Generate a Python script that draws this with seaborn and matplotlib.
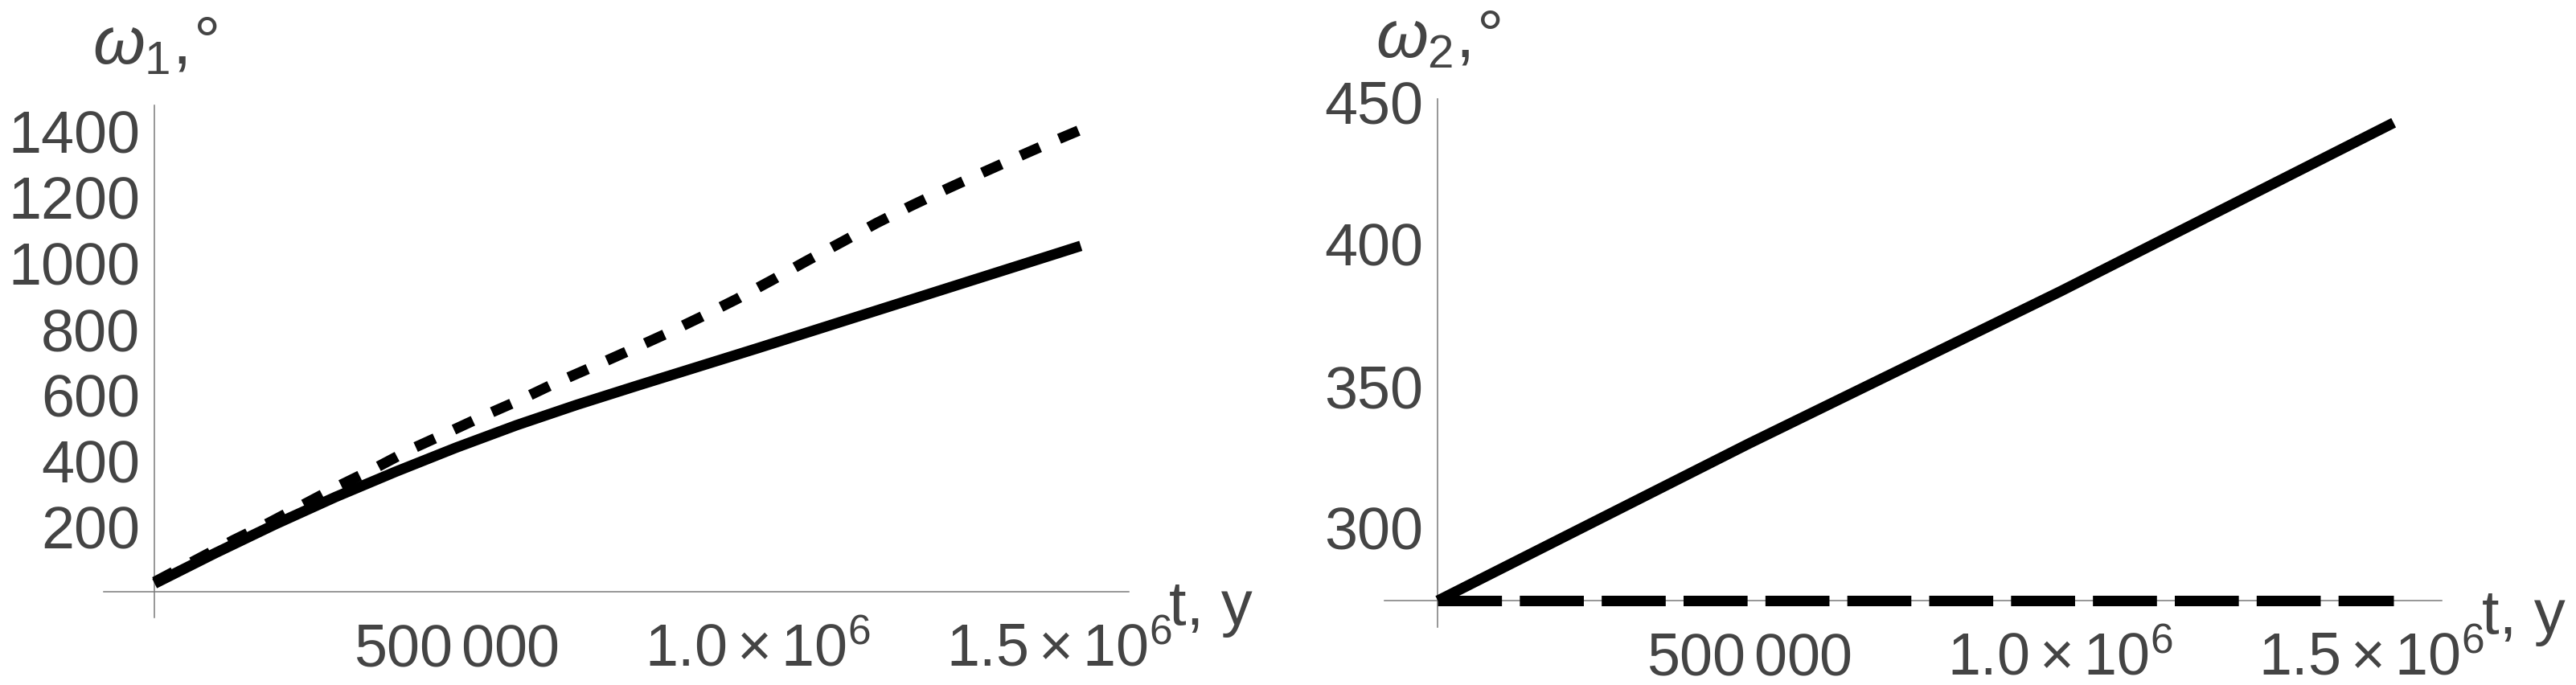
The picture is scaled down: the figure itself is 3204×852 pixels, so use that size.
import numpy as np
import pandas as pd
import matplotlib
matplotlib.use("Agg")
import matplotlib.pyplot as plt
import seaborn as sns
from matplotlib.ticker import FixedLocator, FixedFormatter, NullFormatter

# ---------------- data ----------------
# left panel: omega_1 (deg) vs t (years)
t1_solid = [0, 100e3, 200e3, 300e3, 400e3, 500e3, 600e3, 700e3, 800e3, 900e3,
            1.0e6, 1.1e6, 1.2e6, 1.3e6, 1.4e6, 1.5e6, 1.536e6]
w1_solid = [25, 117, 205, 288, 365, 438, 506, 568, 626, 683,
            740, 798, 856, 914, 972, 1030, 1051]
t1_dash = [0, 131e3, 189e3, 248e3, 307e3, 366e3, 425e3, 485e3, 545e3, 606e3,
           662e3, 726e3, 786e3, 846e3, 905e3, 965e3, 1.023e6, 1.081e6, 1.139e6,
           1.197e6, 1.256e6, 1.316e6, 1.376e6, 1.436e6, 1.497e6, 1.536e6]
w1_dash = [30, 157, 209, 266, 323, 376, 433, 483, 534, 583,
           632, 683, 732, 782, 834, 889, 946, 1005, 1062,
           1120, 1174, 1226, 1276, 1325, 1374, 1404]

# right panel: omega_2 (deg) vs t (years)
t2_solid = [0, 0.5e6, 1.0e6, 1.536e6]
w2_solid = [274.2, 329.5, 383.0, 442.4]
t2_dash = [0, 0.25e6, 0.5e6, 0.75e6, 1.0e6, 1.25e6, 1.536e6]
w2_dash = [274.2, 274.2, 274.2, 274.2, 274.2, 274.2, 274.2]

# ticks / labels
x_major = [500000, 1000000, 1500000]
x_major_labels = [r"$\mathregular{500\,000}$",
                  r"$\mathregular{1.0\times10^{6}}$",
                  r"$\mathregular{1.5\times10^{6}}$"]
x_minor = [100000, 200000, 300000, 400000, 600000, 700000, 800000, 900000,
           1100000, 1200000, 1300000, 1400000, 1600000]
y1_major = [200, 400, 600, 800, 1000, 1200, 1400]
y1_major_labels = ["200", "400", "600", "800", "1000", "1200", "1400"]
y1_minor = [-50, 50, 100, 150, 250, 300, 350, 450, 500, 550, 650, 700, 750,
            850, 900, 950, 1050, 1100, 1150, 1250, 1300, 1350, 1450]
y2_major = [300, 350, 400, 450]
y2_major_labels = ["300", "350", "400", "450"]
y2_minor = [270, 280, 290, 310, 320, 330, 340, 360, 370, 380, 390,
            410, 420, 430, 440]

ylabel1 = r"$\omega_{\mathregular{1}}\mathregular{,\!°}$"
ylabel2 = r"$\omega_{\mathregular{2}}\mathregular{,\!°}$"
xlabel = "t, y"

# ---------------- style ----------------
sns.set_theme(style="white")
plt.rcParams["font.family"] = ["Liberation Sans", "DejaVu Sans"]
plt.rcParams["mathtext.fontset"] = "custom"
plt.rcParams["mathtext.rm"] = "Liberation Sans"
plt.rcParams["mathtext.it"] = "Liberation Sans:italic"
plt.rcParams["mathtext.bf"] = "Liberation Sans:bold"
plt.rcParams["mathtext.sf"] = "Liberation Sans"

AX_COL = "#7a7a7a"
TXT = "#444444"
LW = 9.4  # points (~13 px at 100 dpi)
PX = 72.0 / 100.0  # points per pixel

fig = plt.figure(figsize=(32.05, 8.53), dpi=100)
W, H = 3205.0, 853.0
ax1 = fig.add_axes([129 / W, (H - 769) / H, (1404 - 129) / W, (769 - 132) / H])
ax2 = fig.add_axes([1722 / W, (H - 781) / H, (3037 - 1722) / W, (781 - 124) / H])

df1s = pd.DataFrame({"t": t1_solid, "w": w1_solid})
df1d = pd.DataFrame({"t": t1_dash, "w": w1_dash})
df2s = pd.DataFrame({"t": t2_solid, "w": w2_solid})
df2d = pd.DataFrame({"t": t2_dash, "w": w2_dash})

sns.lineplot(data=df1d, x="t", y="w", ax=ax1, color="black", linewidth=LW,
             estimator=None, sort=False, linestyle=(0, (2.0, 2.0)),
             dash_capstyle="butt")
sns.lineplot(data=df1s, x="t", y="w", ax=ax1, color="black", linewidth=LW,
             estimator=None, sort=False, solid_capstyle="butt",
             solid_joinstyle="round")
sns.lineplot(data=df2d, x="t", y="w", ax=ax2, color="black", linewidth=LW,
             estimator=None, sort=False, linestyle=(0, (6.1, 1.7)),
             dash_capstyle="butt")
sns.lineplot(data=df2s, x="t", y="w", ax=ax2, color="black", linewidth=LW,
             estimator=None, sort=False, solid_capstyle="butt")


def style_axes(ax, xlim, ylim, origin_y, ymaj, ymaj_lab, ymin, ylab):
    ax.set_xlim(*xlim)
    ax.set_ylim(*ylim)
    ax.set_xlabel("")
    ax.set_ylabel("")
    ax.grid(False)
    ax.set_facecolor("white")
    for s in ["top", "right"]:
        ax.spines[s].set_visible(False)
    ax.spines["left"].set_position(("data", 0))
    ax.spines["bottom"].set_position(("data", origin_y))
    for s in ["left", "bottom"]:
        ax.spines[s].set_color(AX_COL)
        ax.spines[s].set_linewidth(1.1)
        ax.spines[s].set_zorder(0.5)
    ax.xaxis.set_major_locator(FixedLocator(x_major))
    ax.xaxis.set_major_formatter(FixedFormatter(x_major_labels))
    ax.xaxis.set_minor_locator(FixedLocator(x_minor))
    ax.xaxis.set_minor_formatter(NullFormatter())
    ax.yaxis.set_major_locator(FixedLocator(ymaj))
    ax.yaxis.set_major_formatter(FixedFormatter(ymaj_lab))
    ax.yaxis.set_minor_locator(FixedLocator(ymin))
    ax.yaxis.set_minor_formatter(NullFormatter())
    ax.tick_params(which="both", direction="in", color=AX_COL, width=1.1,
                   labelcolor=TXT, labelsize=53)
    ax.tick_params(axis="y", which="major", length=10, pad=13)
    ax.tick_params(axis="y", which="minor", length=5.8)
    ax.tick_params(axis="x", which="major", length=9, pad=66)
    ax.tick_params(axis="x", which="minor", length=5.8)
    for lab in ax.get_xticklabels():
        lab.set_verticalalignment("baseline")
    for line in ax.get_lines():
        line.set_zorder(3)
    # axis labels
    ax.annotate(ylab, xy=(0, 1), xycoords=("data", "axes fraction"),
                xytext=(0, 52 * PX), textcoords="offset points",
                ha="center", va="baseline", fontsize=60, color=TXT)
    ax.annotate(xlabel, xy=(1, origin_y), xycoords=("axes fraction", "data"),
                xytext=(50 * PX, -40 * PX), textcoords="offset points",
                ha="left", va="baseline", fontsize=56, color=TXT,
                annotation_clip=False)


style_axes(ax1, (-84400, 1615600), (-78, 1478), 0, y1_major, y1_major_labels,
           y1_minor, ylabel1)
style_axes(ax2, (-85700, 1613300), (264.9, 450.8), 274.2, y2_major,
           y2_major_labels, y2_minor, ylabel2)

fig.savefig("out.png", dpi=100, facecolor="white")
